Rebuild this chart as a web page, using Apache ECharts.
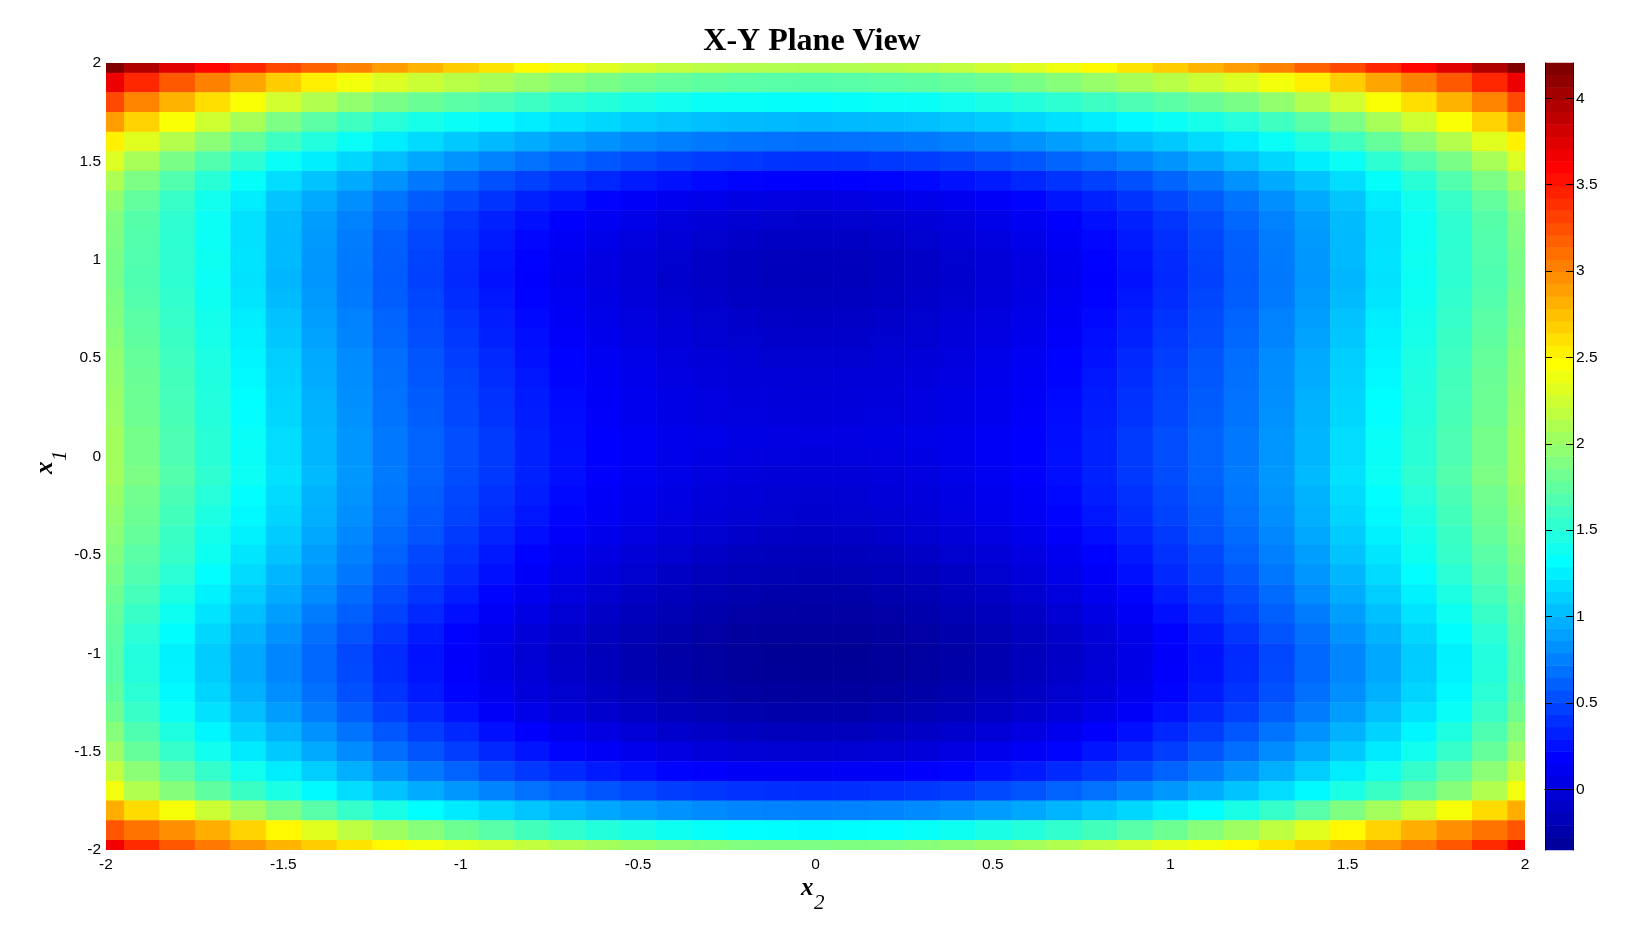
<!DOCTYPE html>
<html><head><meta charset="utf-8">
<style>html,body{margin:0;padding:0;background:#fff}#c{width:1632px;height:945px}</style>
<script src="https://cdn.jsdelivr.net/npm/echarts@6/dist/echarts.min.js"></script>
</head><body><div id="c"></div>
<script>
const x2Categories=[-2,-1.9,-1.8,-1.7,-1.6,-1.5,-1.4,-1.3,-1.2,-1.1,-1,-0.9,-0.8,-0.7,-0.6,-0.5,-0.4,-0.3,-0.2,-0.1,0,0.1,0.2,0.3,0.4,0.5,0.6,0.7,0.8,0.9,1,1.1,1.2,1.3,1.4,1.5,1.6,1.7,1.8,1.9,2];
const x1Categories=[2,1.9,1.8,1.7,1.6,1.5,1.4,1.3,1.2,1.1,1,0.9,0.8,0.7,0.6,0.5,0.4,0.3,0.2,0.1,0,-0.1,-0.2,-0.3,-0.4,-0.5,-0.6,-0.7,-0.8,-0.9,-1,-1.1,-1.2,-1.3,-1.4,-1.5,-1.6,-1.7,-1.8,-1.9,-2];
const r20=[4.20,3.95,3.73,3.58,3.43,3.28,3.17,3.02,2.90,2.79,2.68,2.58,2.48,2.39,2.31,2.24,2.18,2.15,2.12,2.11,2.10,2.11,2.12,2.15,2.18,2.24,2.31,2.39,2.48,2.58,2.68,2.79,2.90,3.02,3.17,3.28,3.43,3.58,3.73,3.95,4.20];
const r19=[3.68,3.42,3.20,3.02,2.86,2.68,2.53,2.41,2.30,2.22,2.14,2.07,1.99,1.92,1.86,1.81,1.77,1.74,1.72,1.71,1.70,1.71,1.72,1.74,1.77,1.81,1.86,1.92,1.99,2.07,2.14,2.22,2.30,2.41,2.53,2.68,2.86,3.02,3.20,3.42,3.68];
const r18=[3.27,3.01,2.79,2.60,2.44,2.25,2.11,1.97,1.86,1.79,1.72,1.66,1.59,1.52,1.48,1.43,1.39,1.36,1.35,1.34,1.33,1.34,1.35,1.36,1.39,1.43,1.48,1.52,1.59,1.66,1.72,1.79,1.86,1.97,2.11,2.25,2.44,2.60,2.79,3.01,3.27];
const r17=[2.90,2.66,2.44,2.24,2.07,1.87,1.73,1.60,1.49,1.42,1.36,1.30,1.24,1.18,1.14,1.09,1.06,1.03,1.02,1.01,1.00,1.01,1.02,1.03,1.06,1.09,1.14,1.18,1.24,1.30,1.36,1.42,1.49,1.60,1.73,1.87,2.07,2.24,2.44,2.66,2.90];
const r16=[2.52,2.32,2.12,1.94,1.77,1.60,1.47,1.36,1.24,1.16,1.08,1.01,0.95,0.89,0.83,0.79,0.75,0.72,0.70,0.69,0.68,0.69,0.70,0.72,0.75,0.79,0.83,0.89,0.95,1.01,1.08,1.16,1.24,1.36,1.47,1.60,1.77,1.94,2.12,2.32,2.52];
const r15=[2.30,2.07,1.86,1.68,1.52,1.36,1.25,1.14,1.03,0.93,0.84,0.76,0.69,0.63,0.57,0.52,0.48,0.45,0.43,0.41,0.40,0.41,0.43,0.45,0.48,0.52,0.57,0.63,0.69,0.76,0.84,0.93,1.03,1.14,1.25,1.36,1.52,1.68,1.86,2.07,2.30];
const r14=[2.09,1.87,1.68,1.50,1.34,1.17,1.05,0.94,0.83,0.72,0.63,0.54,0.47,0.41,0.35,0.30,0.26,0.22,0.20,0.18,0.17,0.18,0.20,0.22,0.26,0.30,0.35,0.41,0.47,0.54,0.63,0.72,0.83,0.94,1.05,1.17,1.34,1.50,1.68,1.87,2.09];
const r13=[1.97,1.76,1.57,1.40,1.24,1.06,0.94,0.82,0.70,0.59,0.50,0.41,0.33,0.27,0.20,0.15,0.11,0.08,0.05,0.03,0.02,0.03,0.05,0.08,0.11,0.15,0.20,0.27,0.33,0.41,0.50,0.59,0.70,0.82,0.94,1.06,1.24,1.40,1.57,1.76,1.97];
const r12=[1.90,1.70,1.53,1.37,1.19,1.02,0.88,0.76,0.64,0.53,0.42,0.33,0.25,0.18,0.12,0.07,0.02,-0.01,-0.04,-0.06,-0.07,-0.06,-0.04,-0.01,0.02,0.07,0.12,0.18,0.25,0.33,0.42,0.53,0.64,0.76,0.88,1.02,1.19,1.37,1.53,1.70,1.90];
const r11=[1.88,1.69,1.52,1.37,1.19,1.01,0.87,0.74,0.61,0.50,0.39,0.30,0.21,0.14,0.07,0.02,-0.02,-0.06,-0.09,-0.11,-0.12,-0.11,-0.09,-0.06,-0.02,0.02,0.07,0.14,0.21,0.30,0.39,0.50,0.61,0.74,0.87,1.01,1.19,1.37,1.52,1.69,1.88];
const r10=[1.86,1.68,1.53,1.38,1.20,1.01,0.86,0.73,0.60,0.48,0.37,0.27,0.19,0.11,0.04,-0.01,-0.06,-0.10,-0.13,-0.15,-0.16,-0.15,-0.13,-0.10,-0.06,-0.01,0.04,0.11,0.19,0.27,0.37,0.48,0.60,0.73,0.86,1.01,1.20,1.38,1.53,1.68,1.86];
const r09=[1.85,1.67,1.52,1.37,1.19,1.00,0.85,0.72,0.59,0.47,0.36,0.26,0.18,0.10,0.03,-0.02,-0.07,-0.10,-0.13,-0.16,-0.17,-0.16,-0.13,-0.10,-0.07,-0.02,0.03,0.10,0.18,0.26,0.36,0.47,0.59,0.72,0.85,1.00,1.19,1.37,1.52,1.67,1.85];
const r08=[1.88,1.69,1.54,1.38,1.21,1.02,0.87,0.73,0.60,0.49,0.38,0.28,0.19,0.12,0.05,0.00,-0.05,-0.08,-0.11,-0.13,-0.14,-0.13,-0.11,-0.08,-0.05,0.00,0.05,0.12,0.19,0.28,0.38,0.49,0.60,0.73,0.87,1.02,1.21,1.38,1.54,1.69,1.88];
const r07=[1.90,1.72,1.56,1.41,1.24,1.05,0.89,0.76,0.63,0.51,0.41,0.31,0.22,0.14,0.07,0.02,-0.02,-0.06,-0.08,-0.10,-0.11,-0.10,-0.08,-0.06,-0.02,0.02,0.07,0.14,0.22,0.31,0.41,0.51,0.63,0.76,0.89,1.05,1.24,1.41,1.56,1.72,1.90];
const r06=[1.93,1.74,1.58,1.42,1.26,1.07,0.91,0.77,0.64,0.53,0.43,0.33,0.24,0.16,0.09,0.04,0.00,-0.04,-0.06,-0.08,-0.08,-0.08,-0.06,-0.04,0.00,0.04,0.09,0.16,0.24,0.33,0.43,0.53,0.64,0.77,0.91,1.07,1.26,1.42,1.58,1.74,1.93];
const r05=[1.96,1.77,1.60,1.45,1.28,1.10,0.94,0.80,0.67,0.56,0.46,0.36,0.26,0.19,0.12,0.07,0.02,-0.01,-0.03,-0.05,-0.05,-0.05,-0.03,-0.01,0.02,0.07,0.12,0.19,0.26,0.36,0.46,0.56,0.67,0.80,0.94,1.10,1.28,1.45,1.60,1.77,1.96];
const r04=[1.98,1.79,1.62,1.46,1.30,1.12,0.95,0.81,0.68,0.57,0.48,0.38,0.28,0.20,0.13,0.08,0.04,0.01,-0.01,-0.02,-0.03,-0.02,-0.01,0.01,0.04,0.08,0.13,0.20,0.28,0.38,0.48,0.57,0.68,0.81,0.95,1.12,1.30,1.46,1.62,1.79,1.98];
const r03=[2.00,1.80,1.63,1.47,1.32,1.13,0.97,0.82,0.69,0.59,0.49,0.40,0.30,0.22,0.15,0.10,0.06,0.03,0.01,0.00,-0.01,0.00,0.01,0.03,0.06,0.10,0.15,0.22,0.30,0.40,0.49,0.59,0.69,0.82,0.97,1.13,1.32,1.47,1.63,1.80,2.00];
const r02=[2.01,1.81,1.64,1.48,1.33,1.14,0.98,0.83,0.70,0.60,0.50,0.41,0.31,0.23,0.16,0.10,0.06,0.03,0.02,0.01,0.00,0.01,0.02,0.03,0.06,0.10,0.16,0.23,0.31,0.41,0.50,0.60,0.70,0.83,0.98,1.14,1.33,1.48,1.64,1.81,2.01];
const r01=[2.04,1.84,1.66,1.50,1.35,1.17,1.00,0.85,0.72,0.62,0.53,0.44,0.33,0.24,0.18,0.13,0.09,0.07,0.05,0.04,0.04,0.04,0.05,0.07,0.09,0.13,0.18,0.24,0.33,0.44,0.53,0.62,0.72,0.85,1.00,1.17,1.35,1.50,1.66,1.84,2.04];
const r00=[2.04,1.84,1.66,1.50,1.35,1.17,1.00,0.85,0.72,0.62,0.53,0.44,0.33,0.25,0.18,0.13,0.08,0.05,0.03,0.02,0.01,0.02,0.03,0.05,0.08,0.13,0.18,0.25,0.33,0.44,0.53,0.62,0.72,0.85,1.00,1.17,1.35,1.50,1.66,1.84,2.04];
const m01=[2.04,1.87,1.69,1.53,1.37,1.19,1.01,0.86,0.73,0.62,0.52,0.43,0.33,0.24,0.17,0.12,0.07,0.03,0.01,-0.01,-0.02,-0.01,0.01,0.03,0.07,0.12,0.17,0.24,0.33,0.43,0.52,0.62,0.73,0.86,1.01,1.19,1.37,1.53,1.69,1.87,2.04];
const m02=[2.00,1.83,1.65,1.49,1.33,1.16,0.98,0.84,0.71,0.60,0.50,0.40,0.31,0.22,0.15,0.10,0.05,0.01,-0.01,-0.04,-0.05,-0.04,-0.01,0.01,0.05,0.10,0.15,0.22,0.31,0.40,0.50,0.60,0.71,0.84,0.98,1.16,1.33,1.49,1.65,1.83,2.00];
const m03=[1.97,1.80,1.62,1.45,1.30,1.13,0.96,0.82,0.69,0.58,0.48,0.38,0.28,0.20,0.13,0.08,0.03,-0.01,-0.04,-0.06,-0.07,-0.06,-0.04,-0.01,0.03,0.08,0.13,0.20,0.28,0.38,0.48,0.58,0.69,0.82,0.96,1.13,1.30,1.45,1.62,1.80,1.97];
const m04=[1.94,1.77,1.58,1.41,1.26,1.09,0.93,0.79,0.66,0.55,0.44,0.34,0.24,0.16,0.09,0.03,-0.01,-0.05,-0.08,-0.10,-0.11,-0.10,-0.08,-0.05,-0.01,0.03,0.09,0.16,0.24,0.34,0.44,0.55,0.66,0.79,0.93,1.09,1.26,1.41,1.58,1.77,1.94];
const m05=[1.90,1.72,1.56,1.38,1.21,1.05,0.89,0.75,0.62,0.50,0.40,0.29,0.19,0.11,0.04,-0.02,-0.06,-0.10,-0.14,-0.16,-0.17,-0.16,-0.14,-0.10,-0.06,-0.02,0.04,0.11,0.19,0.29,0.40,0.50,0.62,0.75,0.89,1.05,1.21,1.38,1.56,1.72,1.90];
const m06=[1.86,1.68,1.51,1.33,1.16,1.00,0.85,0.71,0.58,0.47,0.36,0.25,0.15,0.07,0.00,-0.06,-0.11,-0.15,-0.18,-0.20,-0.21,-0.20,-0.18,-0.15,-0.11,-0.06,0.00,0.07,0.15,0.25,0.36,0.47,0.58,0.71,0.85,1.00,1.16,1.33,1.51,1.68,1.86];
const m07=[1.81,1.63,1.45,1.26,1.10,0.95,0.80,0.66,0.53,0.42,0.31,0.20,0.10,0.02,-0.05,-0.11,-0.16,-0.20,-0.23,-0.25,-0.26,-0.25,-0.23,-0.20,-0.16,-0.11,-0.05,0.02,0.10,0.20,0.31,0.42,0.53,0.66,0.80,0.95,1.10,1.26,1.45,1.63,1.81];
const m08=[1.77,1.57,1.38,1.20,1.04,0.89,0.74,0.61,0.48,0.36,0.25,0.14,0.05,-0.03,-0.10,-0.16,-0.20,-0.24,-0.27,-0.285,-0.29,-0.285,-0.27,-0.24,-0.20,-0.16,-0.10,-0.03,0.05,0.14,0.25,0.36,0.48,0.61,0.74,0.89,1.04,1.20,1.38,1.57,1.77];
const m09=[1.74,1.51,1.31,1.14,0.98,0.83,0.68,0.55,0.42,0.30,0.19,0.08,-0.01,-0.08,-0.14,-0.20,-0.24,-0.28,-0.31,-0.325,-0.33,-0.325,-0.31,-0.28,-0.24,-0.20,-0.14,-0.08,-0.01,0.08,0.19,0.30,0.42,0.55,0.68,0.83,0.98,1.14,1.31,1.51,1.74];
const m10=[1.72,1.47,1.26,1.09,0.93,0.78,0.64,0.50,0.37,0.26,0.16,0.055,-0.03,-0.10,-0.165,-0.22,-0.265,-0.30,-0.33,-0.345,-0.35,-0.345,-0.33,-0.30,-0.265,-0.22,-0.165,-0.10,-0.03,0.055,0.16,0.26,0.37,0.50,0.64,0.78,0.93,1.09,1.26,1.47,1.72];
const m11=[1.725,1.475,1.265,1.095,0.935,0.785,0.645,0.505,0.375,0.265,0.165,0.06,-0.025,-0.095,-0.16,-0.215,-0.26,-0.295,-0.325,-0.34,-0.345,-0.34,-0.325,-0.295,-0.26,-0.215,-0.16,-0.095,-0.025,0.06,0.165,0.265,0.375,0.505,0.645,0.785,0.935,1.095,1.265,1.475,1.725];
const m12=[1.76,1.51,1.30,1.13,0.97,0.82,0.68,0.54,0.41,0.30,0.20,0.095,0.01,-0.06,-0.125,-0.18,-0.225,-0.26,-0.29,-0.305,-0.31,-0.305,-0.29,-0.26,-0.225,-0.18,-0.125,-0.06,0.01,0.095,0.20,0.30,0.41,0.54,0.68,0.82,0.97,1.13,1.30,1.51,1.76];
const m13=[1.82,1.57,1.36,1.19,1.03,0.88,0.74,0.60,0.47,0.36,0.26,0.155,0.07,0.00,-0.065,-0.12,-0.165,-0.20,-0.23,-0.245,-0.25,-0.245,-0.23,-0.20,-0.165,-0.12,-0.065,0.00,0.07,0.155,0.26,0.36,0.47,0.60,0.74,0.88,1.03,1.19,1.36,1.57,1.82];
const m14=[1.915,1.665,1.455,1.285,1.125,0.975,0.835,0.695,0.565,0.455,0.355,0.25,0.165,0.095,0.03,-0.025,-0.07,-0.105,-0.135,-0.15,-0.155,-0.15,-0.135,-0.105,-0.07,-0.025,0.03,0.095,0.165,0.25,0.355,0.455,0.565,0.695,0.835,0.975,1.125,1.285,1.455,1.665,1.915];
const m15=[2.02,1.77,1.56,1.39,1.23,1.08,0.94,0.80,0.67,0.56,0.46,0.355,0.27,0.20,0.135,0.08,0.035,0.00,-0.03,-0.045,-0.05,-0.045,-0.03,0.00,0.035,0.08,0.135,0.20,0.27,0.355,0.46,0.56,0.67,0.80,0.94,1.08,1.23,1.39,1.56,1.77,2.02];
const m16=[2.18,1.94,1.73,1.55,1.39,1.24,1.10,0.96,0.83,0.72,0.62,0.515,0.43,0.365,0.30,0.25,0.20,0.17,0.14,0.125,0.12,0.125,0.14,0.17,0.20,0.25,0.30,0.365,0.43,0.515,0.62,0.72,0.83,0.96,1.10,1.24,1.39,1.55,1.73,1.94,2.18];
const m17=[2.40,2.11,1.91,1.74,1.58,1.44,1.30,1.17,1.05,0.95,0.86,0.77,0.69,0.62,0.555,0.505,0.46,0.425,0.40,0.385,0.38,0.385,0.40,0.425,0.46,0.505,0.555,0.62,0.69,0.77,0.86,0.95,1.05,1.17,1.30,1.44,1.58,1.74,1.91,2.11,2.40];
const m18=[2.82,2.62,2.42,2.23,2.05,1.88,1.71,1.56,1.43,1.32,1.23,1.14,1.06,0.99,0.925,0.875,0.83,0.795,0.77,0.76,0.75,0.76,0.77,0.795,0.83,0.875,0.925,0.99,1.06,1.14,1.23,1.32,1.43,1.56,1.71,1.88,2.05,2.23,2.42,2.62,2.82];
const m19=[3.22,3.08,2.96,2.82,2.66,2.49,2.32,2.17,2.03,1.92,1.81,1.71,1.62,1.54,1.48,1.43,1.38,1.345,1.32,1.31,1.30,1.31,1.32,1.345,1.38,1.43,1.48,1.54,1.62,1.71,1.81,1.92,2.03,2.17,2.32,2.49,2.66,2.82,2.96,3.08,3.22];
const m20=[3.65,3.41,3.21,3.06,2.92,2.79,2.68,2.58,2.49,2.41,2.34,2.26,2.18,2.11,2.05,2.00,1.95,1.92,1.89,1.88,1.87,1.88,1.89,1.92,1.95,2.00,2.05,2.11,2.18,2.26,2.34,2.41,2.49,2.58,2.68,2.79,2.92,3.06,3.21,3.41,3.65];
const planeRows=[r20,r19,r18,r17,r16,r15,r14,r13,r12,r11,r10,r09,r08,r07,r06,r05,r04,r03,r02,r01,r00,m01,m02,m03,m04,m05,m06,m07,m08,m09,m10,m11,m12,m13,m14,m15,m16,m17,m18,m19,m20];
const colorbarLevels=[-0.315,-0.244,-0.173,-0.102,-0.031,0.040,0.111,0.182,0.253,0.325,0.396,0.467,0.538,0.609,0.680,0.751,0.822,0.893,0.964,1.035,1.106,1.177,1.248,1.319,1.390,1.461,1.532,1.604,1.675,1.746,1.817,1.888,1.959,2.030,2.101,2.172,2.243,2.314,2.385,2.456,2.527,2.598,2.669,2.740,2.811,2.883,2.954,3.025,3.096,3.167,3.238,3.309,3.380,3.451,3.522,3.593,3.664,3.735,3.806,3.877,3.948,4.019,4.090,4.165];
const colorbarTicks=[0,0.5,1,1.5,2,2.5,3,3.5,4];
const jetStops=['#00008f','#0000ff','#0080ff','#00ffff','#80ff80','#ffff00','#ff8000','#ff0000','#800000'];
const colorMin=-0.386, colorMax=4.164, barMin=-0.351, barMax=4.204;

const planeData=[];
planeRows.forEach((row,ri)=>row.forEach((v,ci)=>planeData.push([ci,ri,v])));
const barData=colorbarLevels.map((v,i)=>[0,i,v]);
const labelFont='"Liberation Sans",Arial,sans-serif';
const serif='"Liberation Serif","Times New Roman",serif';
const labelStyle={color:'#000',fontSize:15.5,fontFamily:labelFont};
const chart=echarts.init(document.getElementById('c'),null,{renderer:'canvas'});
const hiddenCat=(extra)=>Object.assign({type:'category',show:false,boundaryGap:true},extra);
const plainAxis={splitLine:{show:false},axisTick:{show:false},axisLine:{show:false}};
const whiteStrip=(x,y,width,height)=>({type:'rect',z:4,silent:true,shape:{x,y,width,height},style:{fill:'#fff'}});
chart.setOption({
  animation:false,backgroundColor:'#fff',
  title:{text:'X-Y Plane View',left:807,top:21,textAlign:'center',z:8,textStyle:{fontFamily:serif,fontWeight:'bold',fontSize:32,color:'#000'}},
  grid:[
    {left:88.7,top:53.2,width:1454.5,height:806.7},
    {left:1545,top:63,width:28,height:787},
    {left:106,top:63,width:1419,height:787}
  ],
  xAxis:[
    hiddenCat({gridIndex:0,data:x2Categories}),
    Object.assign({type:'value',gridIndex:2,min:-2,max:2,interval:0.5,position:'bottom',z:10,axisLabel:Object.assign({margin:7},labelStyle)},plainAxis),
    {type:'category',gridIndex:1,data:['c'],position:'bottom',axisLabel:{show:false},axisTick:{show:false},splitLine:{show:false},axisLine:{show:true,lineStyle:{color:'#000',width:1}},z:6},
    {type:'value',gridIndex:1,min:0,max:1,position:'top',axisLabel:{show:false},axisTick:{show:false},splitLine:{show:false},axisLine:{show:true,lineStyle:{color:'#000',width:1}},z:6}
  ],
  yAxis:[
    hiddenCat({gridIndex:0,data:x1Categories,inverse:true}),
    Object.assign({type:'value',gridIndex:2,min:-2,max:2,interval:0.5,position:'left',z:10,axisLabel:Object.assign({margin:5},labelStyle)},plainAxis),
    hiddenCat({gridIndex:1,data:colorbarLevels}),
    {type:'value',gridIndex:1,min:barMin,max:barMax,position:'right',z:6,splitLine:{show:false},
      axisLine:{show:true,lineStyle:{color:'#000',width:1}},
      axisTick:{show:true,inside:true,length:7,lineStyle:{color:'#000',width:1},customValues:colorbarTicks},
      axisLabel:Object.assign({margin:3,customValues:colorbarTicks,showMinLabel:true,showMaxLabel:true},labelStyle)},
    {type:'value',gridIndex:1,min:barMin,max:barMax,position:'left',z:6,splitLine:{show:false},
      axisLine:{show:true,lineStyle:{color:'#000',width:1}},
      axisTick:{show:true,inside:true,length:7,lineStyle:{color:'#000',width:1},customValues:colorbarTicks},
      axisLabel:{show:false}}
  ],
  visualMap:{type:'continuous',show:false,min:colorMin,max:colorMax,dimension:2,seriesIndex:[0,1],inRange:{color:jetStops}},
  series:[
    {type:'heatmap',xAxisIndex:0,yAxisIndex:0,data:planeData,progressive:0,silent:true,emphasis:{disabled:true}},
    {type:'heatmap',xAxisIndex:2,yAxisIndex:2,data:barData,progressive:0,silent:true,emphasis:{disabled:true}}
  ],
  graphic:[
    whiteStrip(80,45,26,825),
    whiteStrip(1525,45,20,825),
    whiteStrip(80,45,1465,18),
    whiteStrip(80,850,1465,20),
    {type:'text',z:9,left:801,top:876,style:{text:'x',font:'italic bold 25px '+serif,fill:'#000'}},
    {type:'text',z:9,left:814,top:893,style:{text:'2',font:'italic 21px '+serif,fill:'#000'}},
    {type:'text',z:9,x:58,y:474,rotation:Math.PI/2,style:{text:'x',font:'italic bold 25px '+serif,fill:'#000',verticalAlign:'bottom'}},
    {type:'text',z:9,x:71,y:461,rotation:Math.PI/2,style:{text:'1',font:'italic 21px '+serif,fill:'#000',verticalAlign:'bottom'}}
  ]
});
</script></body></html>
